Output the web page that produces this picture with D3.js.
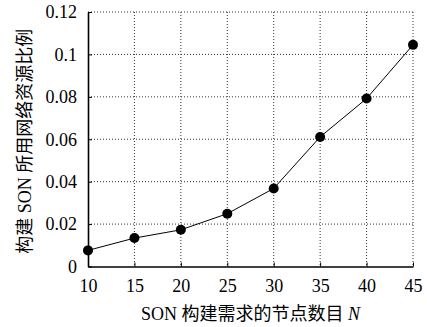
<!DOCTYPE html>
<html>
<head>
<meta charset="utf-8">
<script src="https://cdn.jsdelivr.net/npm/d3@7"></script>
<style>
  html, body { margin: 0; padding: 0; background: #fff; }
</style>
</head>
<body>
<svg id="chart" width="427" height="327"></svg>
<script>
// Node count N and share of network resources used to build the SON
const nodeCounts = [10, 15, 20, 25, 30, 35, 40, 45];
const resourceShare = [0.0076, 0.0134, 0.0173, 0.0249, 0.0368, 0.0611, 0.0792, 0.1045];
const xTicks = [10, 15, 20, 25, 30, 35, 40, 45];
const yTicks = [0, 0.02, 0.04, 0.06, 0.08, 0.1, 0.12];
const xTitle = "SON 构建需求的节点数目 ";
const xTitleVar = "N";
const yTitle = "构建 SON 所用网络资源比例";

const FONT = "'Liberation Serif', 'Noto Sans CJK SC', serif";

const svg = d3.select("#chart");
const m = { left: 88, right: 413, top: 12, bottom: 266.5 };

const x = d3.scaleLinear().domain([10, 45]).range([m.left, m.right]);
const y = d3.scaleLinear().domain([0, 0.12]).range([m.bottom, m.top]);

// dotted grid (also forms the top and right frame)
const grid = svg.append("g");
grid.selectAll("line.gx").data(xTicks.slice(1)).join("line")
  .attr("x1", d => x(d)).attr("x2", d => x(d))
  .attr("y1", m.top).attr("y2", m.bottom)
  .attr("stroke", "#333").attr("stroke-width", 1).attr("stroke-dasharray", "1,2");
grid.selectAll("line.gy").data(yTicks.slice(1)).join("line")
  .attr("x1", m.left).attr("x2", m.right)
  .attr("y1", d => y(d)).attr("y2", d => y(d))
  .attr("stroke", "#333").attr("stroke-width", 1).attr("stroke-dasharray", "1,2");

// axes with inward ticks
const xAxis = d3.axisBottom(x).tickValues(xTicks).tickSizeInner(-4).tickSizeOuter(0)
  .tickPadding(13).tickFormat(d3.format("d"));
const yAxis = d3.axisLeft(y).tickValues(yTicks).tickSizeInner(-4).tickSizeOuter(0)
  .tickPadding(11).tickFormat(d => d === 0 ? "0" : String(+d.toFixed(2)));

const gx = svg.append("g").attr("transform", `translate(0,${m.bottom})`).call(xAxis);
const gy = svg.append("g").attr("transform", `translate(${m.left},0)`).call(yAxis);
[gx, gy].forEach(g => {
  g.attr("font-family", null).attr("font-size", null);
  g.select(".domain").attr("stroke", "#000").attr("stroke-width", 1.6);
  g.selectAll(".tick line").attr("stroke", "#000").attr("stroke-width", 1);
  g.selectAll(".tick text").style("font-size", "18px").style("font-family", FONT).attr("fill", "#000");
});

// data line and markers
const pts = nodeCounts.map((n, i) => [n, resourceShare[i]]);
svg.append("path").datum(pts)
  .attr("fill", "none").attr("stroke", "#000").attr("stroke-width", 1)
  .attr("d", d3.line().x(d => x(d[0])).y(d => y(d[1])));
svg.append("g").selectAll("circle").data(pts).join("circle")
  .attr("cx", d => x(d[0])).attr("cy", d => y(d[1])).attr("r", 5)
  .attr("fill", "#000");

// axis titles
const xt = svg.append("text").attr("x", (m.left + m.right) / 2).attr("y", 320)
  .attr("text-anchor", "middle").style("font-size", "18px").style("font-family", FONT);
xt.append("tspan").text(xTitle);
xt.append("tspan").attr("font-style", "italic").text(xTitleVar);

svg.append("text")
  .attr("transform", `translate(31,${(m.top + m.bottom) / 2 + 2}) rotate(-90)`)
  .attr("text-anchor", "middle").style("font-size", "18px").style("font-family", FONT)
  .text(yTitle);
</script>
</body>
</html>
